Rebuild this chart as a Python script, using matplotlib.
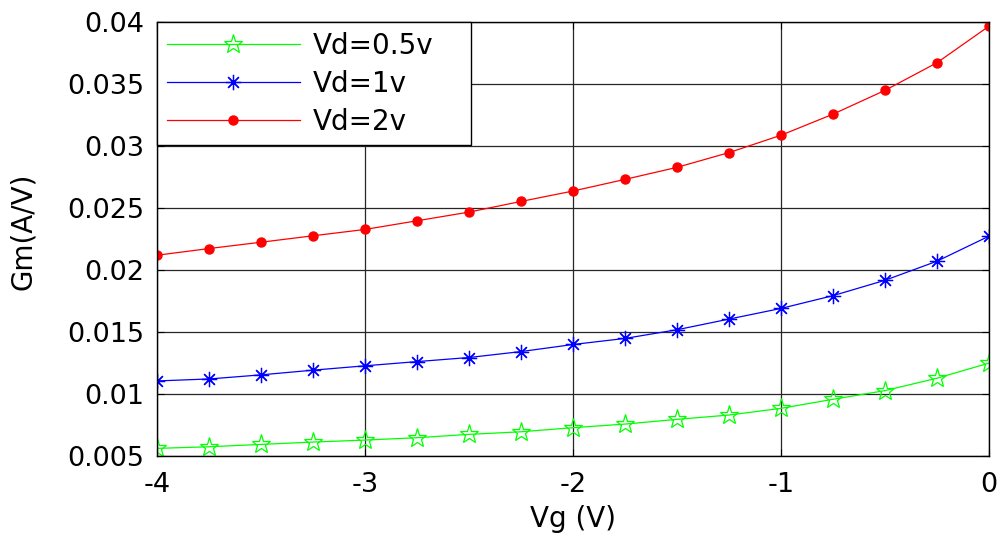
import matplotlib
matplotlib.use("Agg")
import matplotlib.pyplot as plt

plt.rcParams['font.family'] = ['DejaVu Sans']

vg = [-4, -3.75, -3.5, -3.25, -3, -2.75, -2.5, -2.25, -2,
      -1.75, -1.5, -1.25, -1, -0.75, -0.5, -0.25, 0]

gm_vd05 = [0.00560, 0.00573, 0.00592, 0.00611, 0.00627, 0.00646, 0.00673, 0.00694, 0.00727,
           0.00756, 0.00794, 0.00829, 0.00883, 0.00956, 0.01026, 0.01126, 0.01248]
gm_vd1 = [0.01104, 0.01120, 0.01153, 0.01191, 0.01226, 0.01260, 0.01293, 0.01341, 0.01398,
          0.01447, 0.01517, 0.01603, 0.01689, 0.01792, 0.01916, 0.02070, 0.02272]
gm_vd2 = [0.02118, 0.02172, 0.02223, 0.02275, 0.02326, 0.02396, 0.02466, 0.02552, 0.02636,
          0.02730, 0.02827, 0.02946, 0.03086, 0.03256, 0.03448, 0.03671, 0.03966]

x_ticks = [-4, -3, -2, -1, 0]
x_tick_labels = ['-4', '-3', '-2', '-1', '0']
y_ticks = [0.005, 0.01, 0.015, 0.02, 0.025, 0.03, 0.035, 0.04]
y_tick_labels = ['0.005', '0.01', '0.015', '0.02', '0.025', '0.03', '0.035', '0.04']

fig = plt.figure(figsize=(10, 5.35), dpi=100)
ax = fig.add_axes([0.157, 0.148, 0.832, 0.811])

ax.plot(vg, gm_vd05, color=(0, 1, 0), lw=0.9, marker='*', ms=14,
        markerfacecolor='none', markeredgecolor=(0, 1, 0), markeredgewidth=0.9,
        label='Vd=0.5v')
ax.plot(vg, gm_vd1, color=(0, 0, 1), lw=0.9, marker=(8, 2, 0), ms=11,
        markeredgewidth=0.9, label='Vd=1v')
ax.plot(vg, gm_vd2, color=(1, 0, 0), lw=0.9, marker='o', ms=6.5,
        markeredgecolor=(1, 0, 0), label='Vd=2v')

ax.set_xlim(-4, 0)
ax.set_ylim(0.005, 0.04)
ax.set_xticks(x_ticks)
ax.set_xticklabels(x_tick_labels)
ax.set_yticks(y_ticks)
ax.set_yticklabels(y_tick_labels)

ax.grid(True, color='0.15', lw=0.9, linestyle='-')
ax.set_axisbelow(True)
ax.tick_params(direction='in', top=True, right=True, length=5, width=0.8,
               labelsize=19.5)
ax.tick_params(axis='y', pad=9)
ax.tick_params(axis='x', pad=12)
for s in ax.spines.values():
    s.set_linewidth(1.0)
    s.set_color('black')

ax.set_xlabel('Vg (V)', fontsize=20, labelpad=4.5)
ax.set_ylabel('Gm(A/V)', fontsize=20)
ax.yaxis.set_label_coords(-0.144, 0.517)

leg = ax.legend(loc='upper left', fontsize=20, frameon=True, fancybox=False,
                edgecolor='black', framealpha=1, borderaxespad=0,
                bbox_to_anchor=(0.0, 0.0, 0.3775, 1.0), mode='expand',
                handlelength=4.8, handletextpad=0.45, borderpad=0.35,
                labelspacing=0.36)
leg.get_frame().set_linewidth(1.0)

fig.savefig('out.png', dpi=100)
